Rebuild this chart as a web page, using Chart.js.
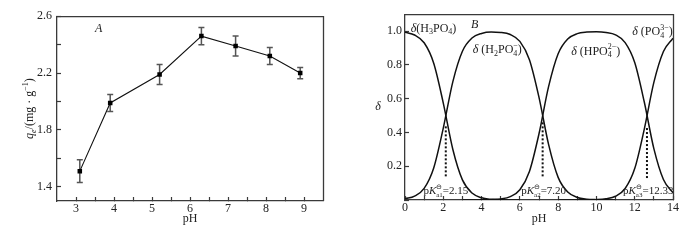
<!DOCTYPE html>
<html>
<head>
<meta charset="utf-8">
<script src="https://cdn.jsdelivr.net/npm/chart.js@4.4.0/dist/chart.umd.min.js"></script>
<style>
  html, body { margin: 0; padding: 0; background: #fff; }
  #wrap { position: relative; width: 700px; height: 240px; }
  canvas { position: absolute; top: 0; }
  #chartA { left: 0; }
  #chartB { left: 350px; }
</style>
</head>
<body>
<div id="wrap">
  <canvas id="chartA" width="350" height="240"></canvas>
  <canvas id="chartB" width="350" height="240"></canvas>
</div>
<script>
// panel A: adsorption capacity vs pH
const phA = [3.1, 3.9, 5.2, 6.3, 7.2, 8.1, 8.9];
const qeA = [1.51, 1.99, 2.19, 2.46, 2.39, 2.32, 2.20];
const errA = [0.08, 0.06, 0.07, 0.06, 0.07, 0.06, 0.04];
const xTicksA = [3, 3.5, 4, 4.5, 5, 5.5, 6, 6.5, 7, 7.5, 8, 8.5, 9];
const xLabelsA = [3, 4, 5, 6, 7, 8, 9];
const yTicksA = [1.4, 1.6, 1.8, 2.0, 2.2, 2.4, 2.6];
const yLabelsA = [1.4, 1.8, 2.2, 2.6];

// panel B: phosphate species distribution
const phB = [0, 0.5, 1, 1.5, 2, 2.5, 3, 3.5, 4, 4.5, 5, 5.5, 6, 6.5, 7, 7.5, 8, 8.5, 9, 9.5, 10, 10.5, 11, 11.5, 12, 12.5, 13, 13.5, 14];
const dH3PO4 = [0.993, 0.977, 0.931, 0.810, 0.574, 0.299, 0.119, 0.041, 0.013, 0.004, 0.001, 0.000, 0.000,
  null, null, null, null, null, null, null, null, null, null, null, null, null, null, null, null];
const dH2PO4 = [0.007, 0.023, 0.069, 0.190, 0.426, 0.701, 0.881, 0.959, 0.986, 0.994, 0.992, 0.980, 0.939, 0.831,
  0.608, 0.329, 0.134, 0.047, 0.015, 0.005, 0.002, 0.001, 0.000, null, null, null, null, null, null];
const dHPO4 = [null, null, null, null, null, null, 0.000, 0.000, 0.001, 0.002, 0.006, 0.020, 0.061, 0.169,
  0.392, 0.671, 0.866, 0.953, 0.985, 0.994, 0.996, 0.992, 0.978, 0.932, 0.814, 0.580, 0.304, 0.121, 0.042];
const dPO4 = [null, null, null, null, null, null, null, null, null, null, null, null, null, null, null, null,
  0.000, 0.000, 0.000, 0.001, 0.002, 0.007, 0.022, 0.068, 0.186, 0.420, 0.696, 0.879, 0.958];
const pKaPos = [2.13, 7.19, 12.64];
const dropTop = [0.44, 0.46, 0.43];
const dropBottom = [0.14, 0.14, 0.13];
const pKaText = ['=2.15', '=7.20', '=12.33'];
const pKaSub = ['a1', 'a2', 'a3'];
const xTicksB = [0, 1, 2, 3, 4, 5, 6, 7, 8, 9, 10, 11, 12, 13, 14];
const xLabelsB = [0, 2, 4, 6, 8, 10, 12, 14];
const yTicksB = [0, 0.2, 0.4, 0.6, 0.8, 1.0];
const yLabelsB = [0.2, 0.4, 0.6, 0.8, 1.0];

const FONT = "'Liberation Serif', 'Times New Roman', serif";
const AXIS = '#3a3a3a';
const FS = 12;
const fontOf = (size, italic) => `${italic ? 'italic ' : ''}${size}px ${FONT}`;

// draws a line of text made of parts: normal, italic, sub, sup, or a sup/sub stack
const drawRich = (ctx, x, y, parts, size, align = 'left') => {
  const sm = Math.round(size * 0.66);
  const widthOf = (t, s, it) => { ctx.font = fontOf(s, it); return ctx.measureText(t).width; };
  ctx.textAlign = 'left';
  ctx.textBaseline = 'middle';
  const items = parts.map(p => {
    if (p[0] === 'stack') {
      const w = Math.max(widthOf(p[1], sm, false), widthOf(p[2], sm, false));
      return { w, draw: (px) => {
        ctx.font = fontOf(sm, false);
        ctx.fillText(p[1], px, y - size * 0.36);
        ctx.fillText(p[2], px, y + size * 0.32);
      } };
    }
    const [t, s] = p;
    const it = s === 'i' || s === 'isub';
    const small = s === 'sub' || s === 'sup' || s === 'isub';
    const sz = small ? sm : size;
    const dy = (s === 'sub' || s === 'isub') ? size * 0.3 : s === 'sup' ? -size * 0.36 : 0;
    const w = widthOf(t, sz, it);
    return { w, draw: (px) => { ctx.font = fontOf(sz, it); ctx.fillText(t, px, y + dy); } };
  });
  const total = items.reduce((a, b) => a + b.w, 0);
  let px = align === 'center' ? x - total / 2 : x;
  items.forEach(item => { item.draw(px); px += item.w; });
};

const framePlugin = {
  id: 'frame',
  afterDraw: (chart) => {
    const { ctx, chartArea: a } = chart;
    ctx.save();
    ctx.strokeStyle = AXIS;
    ctx.lineWidth = 1.3;
    ctx.beginPath();
    ctx.moveTo(a.left, a.top + 0.5);
    ctx.lineTo(a.right + 0.5, a.top + 0.5);
    ctx.lineTo(a.right + 0.5, a.bottom);
    ctx.stroke();
    ctx.restore();
  }
};

const makeAxis = (min, max, tickList, labelList, digits, size, pad) => ({
  type: 'linear',
  min,
  max,
  afterBuildTicks: (s) => { s.ticks = tickList.map(v => ({ value: v })); },
  afterFit: (s) => { if (s.isHorizontal()) s.height = size; else s.width = size; },
  ticks: {
    autoSkip: false,
    maxRotation: 0,
    padding: pad,
    color: '#222',
    font: { family: FONT, size: FS },
    callback: (v) => labelList.some(l => Math.abs(l - v) < 1e-6) ? v.toFixed(digits) : ''
  },
  grid: { drawOnChartArea: false, drawTicks: true, tickLength: -4, tickColor: AXIS, tickWidth: 1.2 },
  border: { display: true, color: AXIS, width: 1.3 }
});

const errorBarPlugin = {
  id: 'errorBars',
  beforeDatasetsDraw: (chart) => {
    const { ctx, scales: { x, y } } = chart;
    ctx.save();
    ctx.strokeStyle = '#555';
    ctx.lineWidth = 1.5;
    phA.forEach((ph, i) => {
      const px = x.getPixelForValue(ph);
      const top = y.getPixelForValue(qeA[i] + errA[i]);
      const bot = y.getPixelForValue(qeA[i] - errA[i]);
      ctx.beginPath();
      ctx.moveTo(px, top); ctx.lineTo(px, bot);
      ctx.moveTo(px - 3, top); ctx.lineTo(px + 3, top);
      ctx.moveTo(px - 3, bot); ctx.lineTo(px + 3, bot);
      ctx.stroke();
    });
    ctx.restore();
  }
};

const textA = {
  id: 'textA',
  afterDraw: (chart) => {
    const { ctx, chartArea: a, scales: { x, y } } = chart;
    ctx.save();
    ctx.fillStyle = '#222';
    drawRich(ctx, x.getPixelForValue(3.5), y.getPixelForValue(2.51), [['A', 'i']], FS);
    drawRich(ctx, (a.left + a.right) / 2, 219, [['pH', 'n']], FS, 'center');
    ctx.translate(30, (a.top + a.bottom) / 2);
    ctx.rotate(-Math.PI / 2);
    drawRich(ctx, 0, 0, [['q', 'i'], ['e', 'isub'], ['/(mg · g', 'n'], ['−1', 'sup'], [')', 'n']], FS, 'center');
    ctx.restore();
  }
};

const labelsB = [
  { x: 0.3, y: 1.015, parts: [['δ', 'i'], ['(H', 'n'], ['3', 'sub'], ['PO', 'n'], ['4', 'sub'], [')', 'n']] },
  { x: 3.45, y: 1.035, parts: [['B', 'i']] },
  { x: 3.54, y: 0.889, parts: [['δ', 'i'], [' (H', 'n'], ['2', 'sub'], ['PO', 'n'], ['stack', '−', '4'], [')', 'n']] },
  { x: 8.68, y: 0.879, parts: [['δ', 'i'], [' (HPO', 'n'], ['stack', '2−', '4'], [')', 'n']] },
  { x: 11.87, y: 0.995, parts: [['δ', 'i'], [' (PO', 'n'], ['stack', '3−', '4'], [')', 'n']] }
];
const pKaLabelX = [0.96, 6.07, 11.39];
const pKaLabelY = 0.05;

const textB = {
  id: 'textB',
  afterDraw: (chart) => {
    const { ctx, chartArea: a, scales: { x, y } } = chart;
    ctx.save();
    ctx.fillStyle = '#222';
    labelsB.forEach(l => drawRich(ctx, x.getPixelForValue(l.x), y.getPixelForValue(l.y), l.parts, FS));
    pKaLabelX.forEach((lx, i) => {
      drawRich(ctx, x.getPixelForValue(lx), y.getPixelForValue(pKaLabelY),
        [['p', 'n'], ['K', 'i'], ['stack', '⊖', pKaSub[i]], [pKaText[i], 'n']], 11);
    });
    drawRich(ctx, (a.left + a.right) / 2, 219, [['pH', 'n']], FS, 'center');
    drawRich(ctx, 28, (a.top + a.bottom) / 2, [['δ', 'i']], FS, 'center');
    ctx.restore();
  }
};

const baseOptions = {
  responsive: false,
  animation: false,
  events: [],
  plugins: { legend: { display: false }, tooltip: { enabled: false } }
};

new Chart(document.getElementById('chartA'), {
  type: 'line',
  plugins: [errorBarPlugin, framePlugin, textA],
  data: {
    datasets: [{
      data: phA.map((ph, i) => ({ x: ph, y: qeA[i] })),
      borderColor: '#111',
      borderWidth: 1.1,
      tension: 0,
      pointStyle: 'rect',
      pointRadius: 3.2,
      pointBackgroundColor: '#000',
      pointBorderWidth: 0
    }]
  },
  options: {
    ...baseOptions,
    layout: { padding: { left: 0, right: 27, top: 10, bottom: 0 } },
    scales: {
      x: makeAxis(2.5, 9.5, xTicksA, xLabelsA, 0, 39, 5),
      y: makeAxis(1.3, 2.6, yTicksA, yLabelsA, 1, 57, 9)
    }
  }
});

const curve = (vals) => ({
  data: phB.map((ph, i) => ({ x: ph, y: vals[i] })),
  borderColor: '#111',
  borderWidth: 1.5,
  pointRadius: 0,
  cubicInterpolationMode: 'monotone',
  spanGaps: false
});
const drop = (i) => ({
  data: [{ x: pKaPos[i], y: dropBottom[i] }, { x: pKaPos[i], y: dropTop[i] }],
  borderColor: '#111',
  borderWidth: 2,
  borderDash: [2, 2],
  pointRadius: 0
});

new Chart(document.getElementById('chartB'), {
  type: 'line',
  plugins: [framePlugin, textB],
  data: {
    datasets: [curve(dH3PO4), curve(dH2PO4), curve(dHPO4), curve(dPO4), drop(0), drop(1), drop(2)]
  },
  options: {
    ...baseOptions,
    layout: { padding: { left: 0, right: 27, top: 9, bottom: 0 } },
    scales: {
      x: makeAxis(0, 14, xTicksB, xLabelsB, 0, 40, 5),
      y: makeAxis(0, 1.1, yTicksB, yLabelsB, 1, 55, 7)
    }
  }
});
</script>
</body>
</html>
